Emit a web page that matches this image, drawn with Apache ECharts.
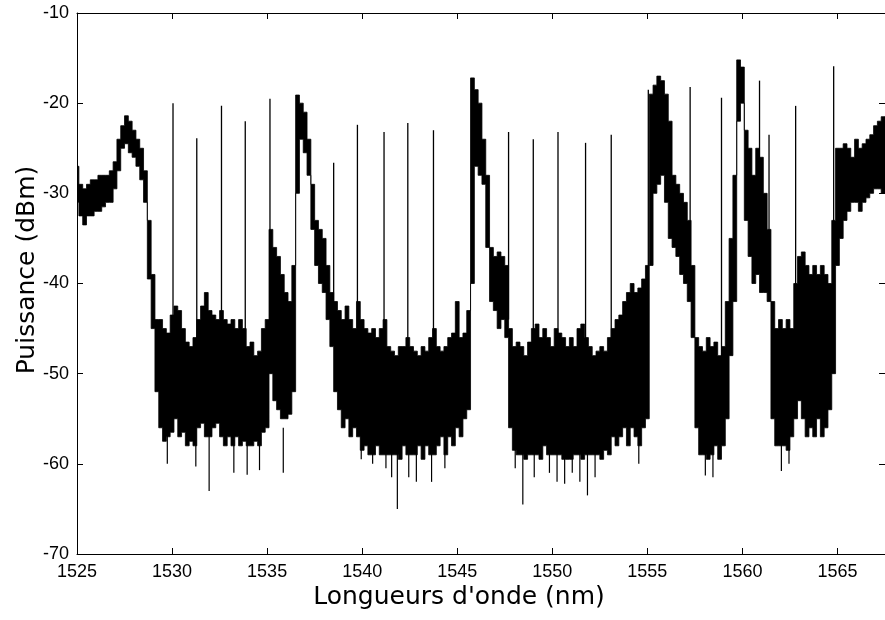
<!DOCTYPE html>
<html>
<head>
<meta charset="utf-8">
<script src="https://cdn.jsdelivr.net/npm/echarts@6/dist/echarts.min.js"></script>
<style>html,body{margin:0;padding:0;background:#fff;}#chart{width:885px;height:620px;}</style>
</head>
<body>
<div id="chart"></div>
<script>
// Sampled wavelengths (nm) of the noisy spectrum
const wl = [
1525.0,1525.2,1525.4,1525.6,1525.8,1526.0,1526.2,1526.4,1526.6,1526.8,1527.0,1527.2,1527.4,1527.6,1527.8,1528.0,1528.2,1528.4,1528.6,1528.8,1529.0,1529.2,
1529.4,1529.6,1529.8,1530.0,1530.2,1530.4,1530.6,1530.8,1531.0,1531.2,1531.4,1531.6,1531.8,1532.0,1532.2,1532.4,1532.6,1532.8,1533.0,1533.2,1533.4,1533.6,1533.8,1534.0,1534.2,1534.4,1534.6,1534.8,1535.0,
1535.2,1535.4,1535.6,1535.8,1536.0,1536.2,1536.4,
1536.6,1536.8,1537.0,1537.2,1537.4,1537.6,1537.8,1538.0,1538.2,1538.4,
1538.6,1538.8,1539.0,1539.2,1539.4,1539.6,1539.8,1540.0,1540.2,1540.4,1540.6,1540.8,1541.0,1541.2,1541.4,1541.6,1541.8,1542.0,1542.2,1542.4,1542.6,1542.8,1543.0,1543.2,1543.4,1543.6,1543.8,1544.0,1544.2,1544.4,1544.6,1544.8,1545.0,1545.2,1545.4,1545.6,
1545.8,1546.0,1546.2,1546.4,1546.6,1546.8,1547.0,1547.2,1547.4,1547.6,
1547.8,1548.0,1548.2,1548.4,1548.6,1548.8,1549.0,1549.2,1549.4,1549.6,1549.8,1550.0,1550.2,1550.4,1550.6,1550.8,1551.0,1551.2,1551.4,1551.6,1551.8,1552.0,1552.2,1552.4,1552.6,1552.8,1553.0,1553.2,1553.4,1553.6,1553.8,1554.0,1554.2,1554.4,1554.6,1554.8,1555.0,
1555.2,1555.4,1555.6,1555.8,1556.0,1556.2,1556.4,1556.6,1556.8,1557.0,1557.2,1557.4,
1557.6,1557.8,1558.0,1558.2,1558.4,1558.6,1558.8,1559.0,
1559.2,1559.4,1559.6,1559.8,1560.0,1560.2,1560.4,1560.6,1560.8,1561.0,1561.2,1561.4,
1561.6,1561.8,1562.0,1562.2,1562.4,1562.6,
1562.8,1563.0,1563.2,1563.4,1563.6,1563.8,1564.0,1564.2,1564.4,1564.6,
1564.8,1565.0,1565.2,1565.4,1565.6,1565.8,1566.0,1566.2,1566.4,1566.6,1566.8,1567.0,1567.2,1567.4
];
// Upper edge of the noisy trace (dBm)
const hi = [
-27,-29,-29.5,-29,-28.5,-28.5,-28,-28,-28,-27.5,-26.5,-24,-22.5,-21.4,-22,-23,-24,-25,-27.5,-33,-39,-44,
-44,-45,-45.5,-43.5,-42.5,-43,-45,-46.5,-47,-46,-44,-42.5,-41,-43,-43.5,-44,-43,-44,-44.5,-44,-45,-44,-45,-47,-46.5,-48,-47.5,-45,-44,
-34,-36,-37,-39,-41,-42,-38,
-19.1,-20,-21,-24,-29,-33,-34,-35,-38,-41,
-42,-43,-44,-42.5,-44,-45,-42,-44,-45,-45.5,-45,-46,-45,-44,-47,-47.5,-48,-47,-47,-46,-47,-47.5,-48,-47,-47.5,-46,-45,-47,-47.5,-47,-46,-45.5,-42,-46,-45.5,-43,
-17.2,-18.5,-20,-24,-28,-36,-37,-36.5,-37,-38,
-45,-47,-46.5,-47,-48,-46.5,-45,-44.5,-46,-45,-46,-47,-45,-45.5,-46,-47,-46,-47,-45,-44.5,-46,-47,-48,-47.5,-47,-47.5,-46,-45,-44,-43.5,-42,-41,-40,-41,-40.5,-39.5,-38,
-19,-18,-17,-17.5,-19,-22,-28,-29,-30,-31,-33,-38,
-46,-47,-47.5,-46,-47,-46.5,-48,-47,
-42,-35,-28,-15.2,-16,-23,-25,-28,-25,-26,-30,-34,
-42,-45,-44,-45,-44,-45,
-40,-37,-36.5,-38,-39,-38,-39,-38,-39,-40,
-33,-25,-25,-24.5,-25,-26,-24,-25,-24.5,-24,-23.5,-22.5,-22,-21.5
];
// Lower edge of the noisy trace (dBm)
const lo = [
-31,-32.5,-33.5,-32.5,-32.5,-32,-32,-31.5,-31,-31,-29.5,-27.5,-25,-24.5,-25.5,-26,-27,-28.5,-31,-39.5,-45,-52,
-56,-57.5,-57,-56.5,-55,-57,-56.5,-58,-57.5,-58,-56,-55.5,-57,-57,-56,-55.5,-57,-58,-57,-58,-57,-58,-57.5,-58,-58,-57.5,-58,-56.5,-56,
-50,-53,-54,-55,-55,-54.5,-52,
-30,-24,-25.5,-28,-34,-38,-40,-41,-44,-47,
-52,-54,-56,-55,-57,-56,-57,-58.5,-58,-59,-59,-58,-59,-59,-59,-59,-59,-59.5,-58,-59,-59,-59,-58,-59.5,-58,-59,-59,-58,-57,-59,-57,-58,-56,-57,-55,-54,
-40,-27,-28,-29,-36,-42,-43,-45,-44,-46,
-56,-58.5,-59,-59,-59.5,-59,-59,-59,-59.5,-58,-59,-59,-59,-59,-59.5,-59.5,-59.5,-59,-59,-59.5,-59,-59,-59,-59,-59.5,-58.5,-59,-57,-58,-57,-56,-58,-56,-57,-58,-56,-55,
-38,-30,-29,-28,-31,-35,-36,-37,-39,-40,-42,-46,
-56,-59,-59,-59.5,-59,-58,-59.5,-58,
-55,-48,-42,-22,-20,-33,-37,-40,-39,-41,-41,-42,
-55,-58,-58,-58,-58.5,-57,
-55,-53,-55,-57,-56,-57,-55,-57,-56,-54,
-50,-38,-35,-33,-32,-31,-31,-32,-31,-30.5,-30,-29.5,-29.5,-30
];
// Isolated deep noise dips below the trace
const dipWl  = [1529.75,1531.25,1531.95,1533.25,1533.95,1534.6,1535.85,1539.95,1540.55,1541.25,1541.55,1541.85,1542.45,1542.85,1543.65,1544.35,1548.05,1548.45,1549.05,1549.85,1550.25,1550.65,1551.05,1551.45,1551.85,1552.25,1554.55,1558.05,1558.45,1562.05,1562.45];
const dipVal = [-60,-60.3,-63,-61,-61.2,-60.7,-61,-59.5,-60,-60.5,-61.5,-65,-61.5,-62,-62,-60.5,-60.5,-64.5,-61.5,-61,-62,-62.2,-61,-62,-63.5,-61.5,-60,-61.3,-61.5,-60.8,-60];
const dipTop = -56;
// Laser lines (narrow channels)
const spikeWl   = [1530.05,1531.3,1532.6,1533.85,1535.15,1538.5,1539.75,1541.15,1542.4,1543.75,1547.7,1549.0,1550.3,1551.75,1553.1,1555.05,1557.25,1558.9,1560.9,1561.4,1562.8,1564.8];
const spikePeak = [-20,-23.9,-20.3,-22,-19.5,-26.6,-22.4,-23.2,-22.2,-23,-23.2,-24,-23.2,-24.4,-23.5,-18.5,-18.2,-19.4,-17.5,-23.5,-20.3,-15.9];
const spikeBase = [-50,-50,-50,-50,-45,-45,-48,-50,-50,-50,-44,-50,-50,-50,-50,-40,-40,-50,-30,-35,-45,-40];

const xTicks = {min:1525, max:1567.5, interval:5};
const yTicks = {min:-70, max:-10, interval:10};
const sampleStep = 0.2;

const dips = dipWl.map((w, i) => [w, dipTop, dipVal[i]]);
const spikes = spikeWl.map((w, i) => [w, spikeBase[i], spikePeak[i]]);

function vline(lw) {
  return function(params, api){
    const p0 = api.coord([api.value(0), api.value(1)]);
    const p1 = api.coord([api.value(0), api.value(2)]);
    return {type:'line', shape:{x1:p0[0], y1:p0[1], x2:p1[0], y2:p1[1]}, style:{stroke:'#000', lineWidth:lw}};
  };
}

// band outline: staircase along the upper edge, then back along the lower edge
function bandRender(params, api) {
  const half = api.size([sampleStep, 0])[0] / 2;
  const pts = [];
  for (let i = 0; i < wl.length; i++) {
    const p = api.coord([wl[i], hi[i]]);
    pts.push([p[0] - half, p[1]], [p[0] + half, p[1]]);
  }
  for (let i = wl.length - 1; i >= 0; i--) {
    const p = api.coord([wl[i], lo[i]]);
    pts.push([p[0] + half, p[1]], [p[0] - half, p[1]]);
  }
  return {type:'polygon', shape:{points:pts}, style:{fill:'#000', stroke:'#000', lineWidth:0.8}};
}

const chart = echarts.init(document.getElementById('chart'), null, {renderer:'canvas'});
const fmt = function(v){ return String(v); };
const tickFont = {color:'#000', fontFamily:'Liberation Sans, Arial, sans-serif', fontSize:18, formatter:fmt};
const axisLine = {show:true, lineStyle:{color:'#000', width:1}};
const tick = {show:true, inside:true, length:6, lineStyle:{color:'#000'}};
chart.setOption({
  animation:false,
  backgroundColor:'#fff',
  grid:{left:77, right:0, top:13, bottom:66, containLabel:false},
  xAxis:[
    {type:'value', position:'bottom', min:xTicks.min, max:xTicks.max, interval:xTicks.interval,
     axisLine:axisLine, axisTick:tick, axisLabel:Object.assign({margin:9, showMaxLabel:false}, tickFont), splitLine:{show:false}},
    {type:'value', position:'top', min:xTicks.min, max:xTicks.max, interval:xTicks.interval,
     axisLine:axisLine, axisTick:tick, axisLabel:{show:false}, splitLine:{show:false}}
  ],
  yAxis:[
    {type:'value', position:'left', min:yTicks.min, max:yTicks.max, interval:yTicks.interval,
     axisLine:axisLine, axisTick:tick, axisLabel:Object.assign({margin:8}, tickFont), splitLine:{show:false}},
    {type:'value', position:'right', min:yTicks.min, max:yTicks.max, interval:yTicks.interval,
     axisLine:axisLine, axisTick:tick, axisLabel:{show:false}, splitLine:{show:false}}
  ],
  graphic:[
    {type:'text', x:459, y:597, style:{text:"Longueurs d'onde (nm)", font:'25px "DejaVu Sans", Verdana, sans-serif', fill:'#000', textAlign:'center', textVerticalAlign:'middle'}},
    {type:'text', x:27, y:270, rotation:Math.PI/2, style:{text:'Puissance (dBm)', font:'25px "DejaVu Sans", Verdana, sans-serif', fill:'#000', textAlign:'center', textVerticalAlign:'middle'}}
  ],
  series:[
    {type:'custom', data:[[wl[0], hi[0]]], clip:true, z:2, encode:{x:0, y:1}, renderItem:bandRender},
    {type:'custom', data:dips, clip:true, z:3, encode:{x:0, y:[1,2]}, renderItem:vline(1.2)},
    {type:'custom', data:spikes, clip:true, z:3, encode:{x:0, y:[1,2]}, renderItem:vline(1.3)}
  ]
});
</script>
</body>
</html>
